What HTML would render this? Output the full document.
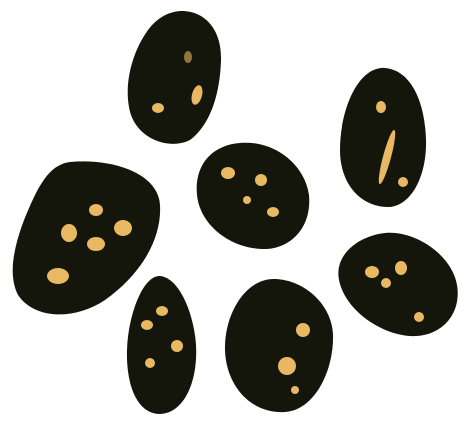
<!DOCTYPE html>
<html><head><meta charset="utf-8"><style>html,body{margin:0;padding:0;background:#fff}svg{display:block}</style></head>
<body>
<svg width="473" height="428" viewBox="0 0 473 428">
<g fill="#15160b">
<path d="M180,11 C205,10 222,30 221,60 C220,95 210,125 190,140 C170,150 140,140 131,115 C123,90 130,55 148,30 C157,18 168,12 180,11Z"/>
<path d="M385,68 C410,70 425,100 426,140 C427,175 412,205 390,207 C362,208 340,185 340,150 C340,110 358,66 385,68Z"/>
<path d="M240,143 C275,140 305,165 309,195 C312,228 290,250 262,249 C230,248 200,225 197,195 C194,165 212,145 240,143Z"/>
<path d="M70,162 C110,158 158,172 160,205 C162,240 140,275 105,300 C75,320 35,320 18,295 C5,270 18,230 35,195 C45,175 55,164 70,162Z"/>
<path d="M160,276 C180,278 194,315 196,345 C198,380 185,413 160,414 C137,414 126,385 127,350 C128,315 143,275 160,276Z"/>
<path d="M275,279 C305,280 332,305 333,335 C334,370 315,410 285,412 C250,414 226,385 225,350 C224,315 245,278 275,279Z"/>
<path d="M385,233 C415,230 452,255 457,285 C462,315 440,338 410,336 C380,334 345,310 339,280 C334,255 358,236 385,233Z"/>
</g>
<g fill="#e8b862">
<ellipse cx="188" cy="57" rx="4" ry="6" opacity="0.6"/>
<ellipse cx="197" cy="95" rx="5" ry="10" transform="rotate(15 197 95)"/>
<ellipse cx="158" cy="108" rx="6" ry="5"/>
<ellipse cx="381" cy="107" rx="5" ry="6"/>
<ellipse cx="387" cy="157" rx="4" ry="28" transform="rotate(15 387 157)"/>
<ellipse cx="403" cy="182" rx="5" ry="5"/>
<ellipse cx="228" cy="173" rx="7" ry="6"/>
<ellipse cx="261" cy="180" rx="6" ry="6"/>
<ellipse cx="247" cy="200" rx="4" ry="4"/>
<ellipse cx="273" cy="212" rx="6" ry="5"/>
<ellipse cx="96" cy="210" rx="7" ry="6"/>
<ellipse cx="69" cy="233" rx="8" ry="9"/>
<ellipse cx="96" cy="244" rx="9" ry="7"/>
<ellipse cx="123" cy="228" rx="9" ry="8"/>
<ellipse cx="58" cy="276" rx="11" ry="8"/>
<ellipse cx="162" cy="311" rx="6" ry="5"/>
<ellipse cx="147" cy="325" rx="6" ry="5"/>
<ellipse cx="177" cy="346" rx="6" ry="6"/>
<ellipse cx="150" cy="363" rx="5" ry="5"/>
<ellipse cx="303" cy="330" rx="7" ry="7"/>
<ellipse cx="287" cy="366" rx="9" ry="9"/>
<ellipse cx="295" cy="390" rx="4" ry="4"/>
<ellipse cx="372" cy="272" rx="7" ry="6"/>
<ellipse cx="386" cy="283" rx="5" ry="5"/>
<ellipse cx="401" cy="268" rx="6" ry="7"/>
<ellipse cx="419" cy="317" rx="5" ry="5"/>
</g>
</svg>
</body></html>
